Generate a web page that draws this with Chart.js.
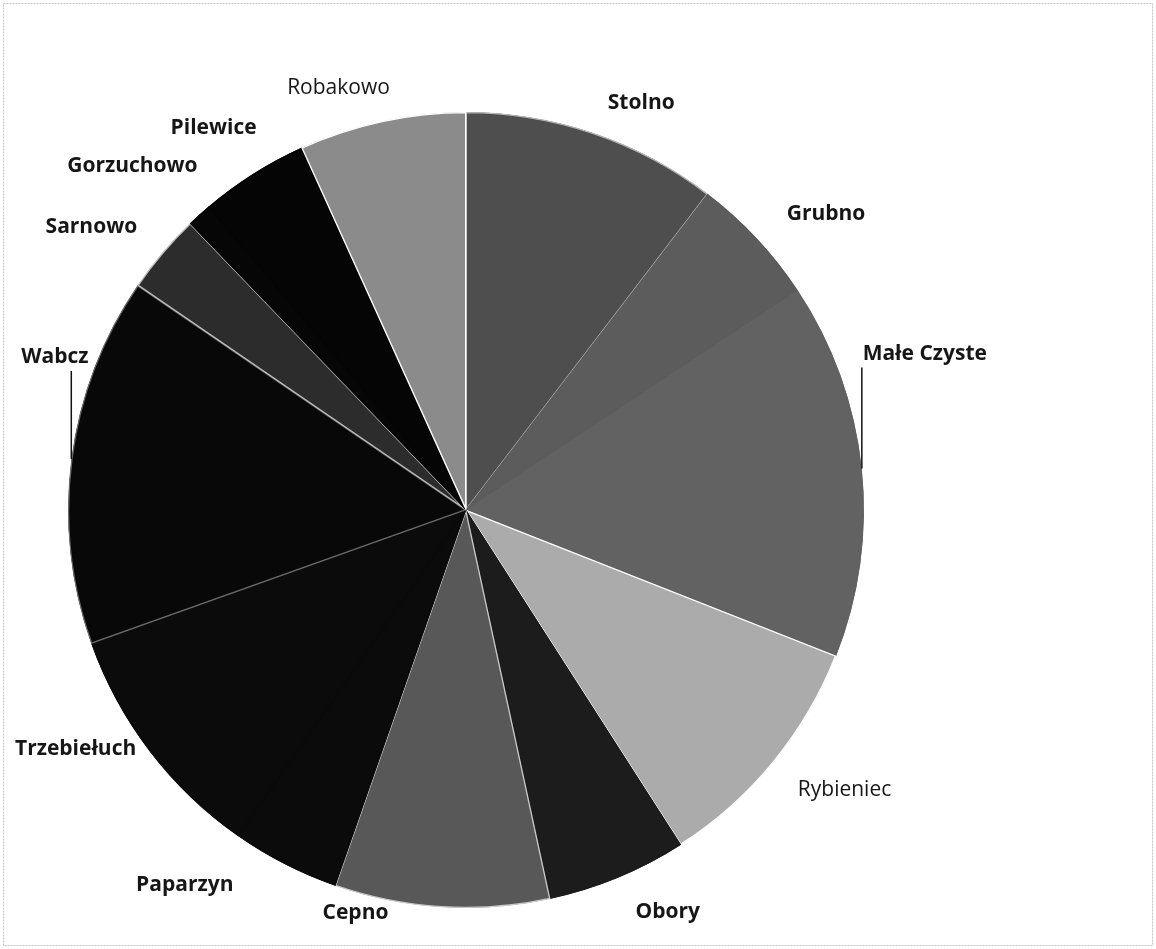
<!DOCTYPE html>
<html>
<head>
<meta charset="utf-8">
<script src="https://cdn.jsdelivr.net/npm/chart.js@4.4.1/dist/chart.umd.min.js"></script>
<style>
  html, body { margin: 0; padding: 0; background: #ffffff; }
  #wrap { width: 1156px; height: 949px; position: relative; }
</style>
</head>
<body>
<div id="wrap"><canvas id="c" width="1156" height="949"></canvas></div>
<script>
// ---- data (percent shares) ----
const categories = ['Stolno', 'Grubno', 'Małe Czyste', 'Rybieniec', 'Obory', 'Cepno', 'Paparzyn',
                    'Trzebiełuch', 'Wabcz', 'Sarnowo', 'Gorzuchowo', 'Pilewice', 'Robakowo'];
const shares = [10.39, 5.31, 15.28, 9.94, 5.69, 8.72, 4.39, 9.83, 15.0, 3.25, 1.0, 4.42, 6.78];

// ---- styling ----
const sliceColors = ['#4e4e4e', '#5c5c5c', '#626262', '#ababab', '#1c1c1c', '#585858', '#0b0b0b',
                     '#0b0b0b', '#080808', '#2c2c2c', '#060606', '#050505', '#8b8b8b'];
const edgeColors  = ['#b4b4b4', '#5c5c5c', '#626262', '#ffffff', '#1c1c1c', '#c8c8c8', '#0b0b0b',
                     '#0b0b0b', '#6a6a6a', '#bdbdbd', '#060606', '#050505', '#ffffff'];
const labelWeights = ['bold', 'bold', 'bold', 'normal', 'bold', 'bold', 'bold',
                      'bold', 'bold', 'bold', 'bold', 'bold', 'normal'];
const labelNudge = [[2, 6], [2, 2], [-37, -111], [-5, 3], [3, -1], [-51, -32], [-34, -13],
                    [17, -25], [55, -97], [4, -1], [24, -21], [24, -14], [16, 4]];
const leaderLabels = ['Małe Czyste', 'Wabcz'];
const labelGap = 38;

const framePlugin = {
  id: 'frame',
  beforeDraw(chart) {
    const ctx = chart.ctx;
    ctx.save();
    ctx.strokeStyle = '#c4c4c4';
    ctx.lineWidth = 1;
    ctx.setLineDash([2, 1]);
    ctx.strokeRect(3.5, 3.5, chart.width - 7, chart.height - 7);
    ctx.restore();
  }
};

const labelPlugin = {
  id: 'outerLabels',
  afterDatasetsDraw(chart) {
    const ctx = chart.ctx;
    const meta = chart.getDatasetMeta(0);
    ctx.save();
    ctx.fillStyle = '#161616';
    ctx.strokeStyle = '#111111';
    ctx.textBaseline = 'middle';
    meta.data.forEach((arc, i) => {
      const p = arc.getProps(['x', 'y', 'startAngle', 'endAngle', 'outerRadius'], true);
      const mid = (p.startAngle + p.endAngle) / 2;
      const cx = Math.cos(mid), cy = Math.sin(mid);
      const R = p.outerRadius + labelGap;
      const tx = p.x + cx * R + labelNudge[i][0];
      const ty = p.y + cy * R + labelNudge[i][1];
      ctx.textAlign = cx >= 0 ? 'left' : 'right';
      ctx.font = labelWeights[i] + ' 21px "Open Sans", "Noto Sans", sans-serif';
      ctx.fillText(categories[i], tx, ty);
      if (leaderLabels.includes(categories[i])) {
        const ex = p.x + cx * p.outerRadius;
        const ey = p.y + cy * p.outerRadius;
        ctx.lineWidth = 1.5;
        ctx.beginPath();
        ctx.moveTo(ex, ty + 14);
        ctx.lineTo(ex, ey);
        ctx.stroke();
      }
    });
    ctx.restore();
  }
};

new Chart(document.getElementById('c'), {
  type: 'pie',
  data: {
    labels: categories,
    datasets: [{
      data: shares,
      backgroundColor: sliceColors,
      borderColor: edgeColors,
      borderWidth: 1,
      borderAlign: 'inner'
    }]
  },
  options: {
    responsive: false,
    animation: false,
    layout: { padding: { top: 112, bottom: 41, left: 68, right: 292 } },
    plugins: {
      legend: { display: false },
      tooltip: { enabled: false }
    }
  },
  plugins: [framePlugin, labelPlugin]
});
</script>
</body>
</html>
